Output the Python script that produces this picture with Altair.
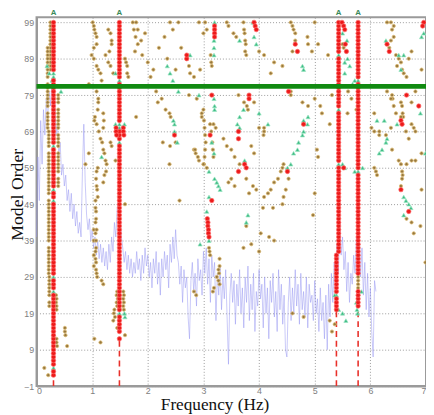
import altair as alt
import pandas as pd

# ---------------- data ----------------
FREQ_STEP = 0.025  # spectrum resolution (Hz)
psd_level = [
    40, 62, 50, 72, 60, 75, 68, 78, 72, 80,
    76, 82, 74, 79, 68, 72, 62, 66, 57, 60,
    54, 57, 50, 53, 47, 52, 45, 49, 43, 47,
    41, 44, 40, 58, 71, 55, 46, 42, 45, 39,
    42, 37, 40, 35, 39, 34, 38, 33, 37, 32,
    36, 31, 38, 33, 40, 36, 44, 40, 48, 50,
    46, 40, 37, 33, 36, 31, 35, 30, 34, 29,
    33, 30, 36, 31, 34, 28, 35, 30, 37, 32,
    35, 29, 33, 26, 34, 30, 36, 27, 33, 24,
    34, 29, 36, 31, 35, 26, 38, 33, 40, 34,
    42, 35, 33, 27, 32, 22, 31, 26, 29, 18,
    12, 28, 33, 25, 30, 21, 34, 28, 31, 24,
    36, 30, 37, 27, 34, 22, 35, 29, 33, 17,
    30, 24, 32, 20, 29, 23, 31, 18, 5, 24,
    30, 22, 28, 16, 27, 21, 31, 19, 26, 15,
    29, 22, 32, 17, 27, 20, 30, 14, 25, 21,
    31, 23, 27, 15, 29, 19, 26, 12, 28, 22,
    30, 18, 25, 14, 31, 20, 27, 16, 24, 9,
    7, 22, 29, 17, 26, 19, 31, 21, 27, 16,
    30, 20, 25, 18, 29, 15, 27, 22, 24, 17,
    28, 19, 23, 14, 26, 17, 22, 12, 24, 9,
    27, 18, 30, 22, 33, 26, 38, 30, 44, 35,
    40, 31, 36, 25, 33, 22, 30, 27, 35, 30,
    40, 33, 42, 29, 37, 24, 33, 20, 30, 18,
    26, 14, 7, 28, 25,
]

# columns of poles: (frequency, [(first order, last order, status)])
# status: R = stable, G = stable in frequency only, B = unstable
pole_columns = [
    (0.305, [(2, 3, 'R'), (4, 4, 'G'), (5, 24, 'R'), (25, 25, 'G'), (26, 28, 'R'), (29, 29, 'G'),
             (30, 49, 'R'), (50, 50, 'G'), (51, 52, 'R'), (53, 53, 'G'), (54, 64, 'R'), (65, 65, 'G'),
             (66, 83, 'R'), (84, 85, 'G'), (86, 99, 'R')]),
    (0.25, [(86, 99, 'B')]),
    (0.20, [(70, 74, 'B'), (76, 82, 'B'), (84, 92, 'B')]),
    (0.22, [(30, 37, 'B'), (39, 50, 'B'), (52, 63, 'B'), (65, 69, 'B')]),
    (0.23, [(21, 22, 'B'), (24, 29, 'B')]),
    (0.39, [(54, 56, 'B'), (58, 63, 'B'), (65, 68, 'B'), (70, 75, 'B'), (77, 79, 'B')]),
    (1.49, [(12, 12, 'R'), (14, 18, 'R'), (19, 19, 'G'), (20, 65, 'R'), (66, 66, 'G'), (67, 69, 'R'),
            (70, 71, 'G'), (72, 82, 'R'), (83, 83, 'G'), (84, 99, 'R')]),
    (5.39, [(20, 23, 'R'), (24, 24, 'G'), (25, 35, 'R')]),
    (5.43, [(36, 59, 'R'), (60, 60, 'G'), (61, 74, 'R'), (75, 75, 'G'), (76, 89, 'R'), (90, 90, 'G'),
            (91, 99, 'R')]),
    (5.78, [(21, 25, 'R'), (26, 29, 'B'), (30, 57, 'R'), (58, 58, 'G'), (59, 82, 'R'), (83, 83, 'G'),
            (84, 99, 'R')]),
]

unstable_pts = [
    (0.14, 4), (0.21, 2), (0.36, 12), (0.36, 11), (0.37, 10), (0.51, 15), (0.51, 14), (0.52, 13), (0.55, 10),
    (0.35, 24), (0.36, 23), (0.35, 22), (0.36, 21), (0.36, 20),
    (1.45, 25), (1.44, 24), (1.46, 23), (1.44, 22), (1.45, 21), (1.40, 20), (1.39, 19), (1.41, 18), (1.38, 17),
    (1.45, 15), (1.59, 13), (1.56, 25), (1.57, 24), (1.56, 23), (1.57, 22), (1.56, 21), (1.57, 20),
    (1.01, 99), (1.03, 98), (1.04, 97), (1.06, 96), (1.08, 95), (1.08, 93), (1.03, 92), (0.99, 90), (1.03, 89),
    (1.08, 87), (1.11, 86), (1.15, 85), (1.17, 83), (0.94, 82), (1.08, 80), (1.11, 78),
    (1.11, 77), (1.10, 75), (1.05, 73), (1.04, 72), (1.08, 71), (1.12, 69), (1.15, 67), (1.18, 66), (1.20, 64),
    (1.22, 63), (1.24, 61), (1.26, 60), (1.25, 58), (1.22, 57), (1.20, 55), (1.10, 59), (1.08, 58), (1.07, 56),
    (1.08, 54), (1.09, 53), (1.10, 51), (1.06, 50), (1.06, 48), (1.07, 47), (1.07, 45), (1.06, 44), (1.03, 42),
    (1.08, 42), (1.06, 41), (1.03, 39), (1.07, 39), (1.07, 37), (1.06, 36), (1.03, 35), (1.06, 34), (1.07, 33),
    (1.03, 32), (1.07, 31), (1.08, 30), (1.09, 29), (1.17, 28), (1.20, 27), (1.04, 12), (1.15, 11),
    (1.20, 74), (1.21, 72), (1.20, 70),
    (1.24, 90), (1.29, 88), (1.33, 87), (1.38, 85), (1.29, 97), (1.33, 96), (1.35, 94), (1.35, 93), (1.31, 91),
    (1.59, 89), (1.61, 88), (1.63, 87), (1.63, 85), (1.65, 84),
    (1.79, 99), (1.82, 97), (1.95, 96), (1.88, 94), (1.82, 93), (1.77, 91), (1.73, 99), (1.75, 97), (1.78, 95),
    (0.88, 60), (0.94, 63), (1.42, 61), (1.33, 66), (1.35, 65), (1.59, 49), (1.79, 73),
    (2.18, 77), (2.32, 75), (2.39, 74), (2.41, 73), (2.27, 66), (2.40, 65), (2.50, 66), (2.83, 64), (2.86, 63),
    (2.92, 61), (2.39, 60), (2.57, 50),
    (1.90, 90), (2.00, 88), (2.10, 86), (2.05, 84), (2.20, 92), (2.30, 95), (2.45, 97), (2.35, 89), (2.15, 80),
    (2.25, 78), (2.50, 86), (2.60, 92), (2.55, 99), (2.40, 99),
    (2.92, 99), (3.03, 99), (3.06, 97), (3.00, 96), (3.13, 90), (3.14, 88), (3.15, 87), (2.74, 87), (2.76, 85),
    (2.83, 84), (2.94, 86), (3.42, 99), (3.45, 98), (3.54, 96), (3.59, 95),
    (3.72, 99), (3.73, 97), (3.74, 96), (3.75, 94), (3.76, 93), (3.75, 91), (3.77, 90),
    (4.00, 91), (4.09, 90), (4.27, 88), (4.42, 87), (4.21, 85),
    (4.57, 99), (4.60, 98), (4.62, 97), (4.65, 96), (4.65, 94), (4.60, 91),
    (4.87, 95), (4.88, 93), (4.95, 91), (5.00, 99), (5.06, 93), (5.24, 90),
    (6.30, 99), (6.37, 99), (6.42, 98), (6.39, 97), (6.42, 95), (6.37, 94), (6.34, 92),
    (6.46, 90), (6.51, 89), (6.55, 88), (6.48, 87), (6.57, 86), (6.60, 85), (6.65, 84),
    (6.74, 91), (6.69, 89), (6.92, 86), (5.50, 93), (5.52, 92),
    (2.74, 79), (2.88, 78), (2.97, 74), (2.97, 73), (3.18, 71), (3.22, 70), (3.63, 79), (3.73, 77), (3.78, 76),
    (3.80, 75), (3.91, 77), (4.09, 70), (4.09, 69), (4.08, 68), (4.57, 80), (4.57, 79), (4.78, 77), (4.88, 76),
    (5.00, 78), (5.10, 76), (5.13, 74), (5.27, 71), (5.75, 75), (6.07, 74), (6.07, 69), (6.16, 68), (6.28, 68),
    (6.37, 70), (6.39, 79), (6.40, 78), (6.42, 76), (6.55, 77), (6.57, 76), (6.58, 74), (6.59, 73), (6.74, 71),
    (6.78, 70), (6.81, 69), (5.31, 79), (5.60, 80), (5.66, 78), (5.59, 74), (6.30, 80), (6.37, 78), (6.46, 74),
    (6.55, 73), (6.64, 69), (6.69, 67), (6.74, 77), (6.81, 80), (6.02, 70), (6.16, 69),
    (3.00, 75), (3.01, 72), (3.02, 70), (3.03, 68), (3.04, 66), (3.03, 64), (3.02, 62), (3.01, 60),
    (2.85, 64), (2.90, 62), (3.00, 60), (3.06, 59), (3.12, 71), (3.14, 69), (3.16, 66), (3.17, 64), (3.18, 62),
    (3.36, 67), (3.42, 65), (3.50, 64), (3.56, 62), (3.65, 60), (3.45, 55), (3.50, 56), (3.56, 54), (3.77, 56),
    (3.89, 54), (3.82, 52), (3.95, 53), (3.86, 65), (3.91, 63), (4.00, 70),
    (4.09, 51), (4.16, 52), (4.21, 53), (4.27, 55), (4.34, 56), (4.39, 58), (4.42, 59), (4.44, 60), (4.53, 56),
    (4.48, 53), (4.44, 51), (5.04, 64), (5.06, 62), (5.00, 52), (6.07, 59), (6.10, 58), (6.12, 57), (6.39, 64),
    (6.51, 61), (6.55, 60), (6.57, 58), (6.58, 57), (6.57, 56), (6.55, 54), (6.65, 60), (6.74, 61), (6.81, 61),
    (6.92, 63), (6.92, 53),
    (3.10, 37), (3.11, 36), (3.12, 35), (3.29, 34), (3.29, 32), (3.77, 43), (3.86, 38), (3.72, 37), (4.03, 41),
    (4.18, 40), (4.27, 39), (4.00, 36), (4.07, 48), (4.25, 48), (4.42, 49), (4.97, 46), (6.74, 44), (6.90, 43),
    (6.78, 41), (6.65, 45), (6.99, 33),
    (2.83, 25), (2.87, 24), (3.19, 26), (3.24, 29), (3.27, 28), (3.29, 27), (3.27, 31), (3.28, 30), (3.17, 25),
    (4.60, 19), (4.80, 18), (5.27, 17), (5.31, 14), (5.36, 16),
]

freq_stable_pts = [
    (0.19, 87), (0.23, 85), (0.28, 83), (0.44, 80),
    (1.42, 71), (1.58, 71), (1.42, 85), (1.59, 18), (1.58, 19), (1.17, 62),
    (2.46, 72), (2.48, 71), (2.48, 69), (2.53, 66), (2.35, 87), (2.40, 85), (2.45, 83), (2.55, 80),
    (2.92, 79), (3.19, 78), (3.20, 76), (3.20, 75), (3.65, 73), (3.72, 75), (3.61, 71), (3.65, 70), (4.00, 74),
    (4.16, 71), (4.88, 73), (4.80, 72), (6.25, 72), (6.90, 74),
    (3.15, 66), (3.19, 63), (3.20, 56), (3.24, 55), (3.27, 54), (3.30, 53), (3.10, 51), (3.10, 58), (3.74, 61),
    (4.51, 59), (4.57, 60), (4.62, 63), (4.69, 64), (4.71, 66), (4.78, 68), (4.80, 69), (4.87, 71),
    (5.50, 60), (5.54, 59), (5.72, 58), (5.86, 59),
    (6.16, 63), (6.21, 64), (6.28, 66), (6.30, 67),
    (6.60, 51), (6.64, 50), (6.69, 49), (6.73, 48), (6.60, 46), (6.99, 63),
    (3.06, 47), (2.94, 38), (3.10, 39), (3.80, 46), (3.77, 44),
    (3.20, 99), (3.19, 94), (3.19, 92), (3.19, 90), (2.76, 90), (3.65, 94), (3.89, 99), (3.91, 95), (3.95, 93),
    (4.78, 87), (4.80, 86), (5.50, 96), (5.58, 94), (5.59, 89), (5.63, 87), (5.54, 85), (5.72, 83), (5.54, 88),
    (5.68, 82), (6.28, 94), (6.51, 90), (6.60, 90), (6.55, 86), (6.92, 95), (6.12, 72), (6.48, 71), (6.96, 96),
    (5.36, 24), (5.43, 20), (5.50, 19), (5.56, 17), (5.75, 22), (5.76, 20), (5.77, 19), (5.84, 25),
]

stable_pts = [
    (1.43, 70), (1.43, 69), (1.56, 70), (1.56, 69), (1.57, 68), (1.44, 68),
    (2.48, 68), (3.15, 79), (3.20, 98), (3.20, 97), (3.20, 96), (3.20, 95), (2.70, 89), (2.70, 90),
    (3.91, 99), (3.93, 98), (3.95, 97), (4.65, 93), (4.69, 91), (5.49, 99), (5.52, 98), (5.54, 97), (5.55, 93),
    (5.57, 91), (6.30, 93), (6.34, 91), (6.96, 99), (6.94, 98),
    (4.53, 80), (3.82, 79), (3.82, 78), (4.80, 71), (6.65, 79), (6.55, 72), (6.87, 76), (6.57, 71),
    (3.12, 68), (3.63, 69), (3.63, 67), (3.74, 60), (3.77, 59), (3.63, 58), (3.15, 50), (4.51, 58), (5.52, 59),
    (6.55, 53), (6.69, 47),
    (3.07, 45), (3.08, 44), (3.08, 43), (3.09, 42), (3.09, 41), (3.10, 40),
]

mode_freqs = [0.305, 1.49, 5.39, 5.78]
mode_dash_top = [2, 12, 20, 21]
mode_label_freqs = [0.305, 1.49, 5.43, 5.78]
chosen_order = 81.4

x_ticks = [0, 1, 2, 3, 4, 5, 6, 7]
y_ticks = [-1, 9, 19, 29, 39, 49, 59, 69, 79, 89, 99]

# ---------------- tables ----------------
df_psd = pd.DataFrame({"f": [i * FREQ_STEP for i in range(len(psd_level))], "o": psd_level})

rows = {"R": [], "G": [], "B": []}
for freq, runs in pole_columns:
    for a, b, s in runs:
        for order in range(a, b + 1):
            rows[s].append((freq, order))
rows["B"] += unstable_pts
rows["G"] += freq_stable_pts
rows["R"] += stable_pts
df_B = pd.DataFrame(rows["B"], columns=["f", "o"])
df_G = pd.DataFrame(rows["G"], columns=["f", "o"])
df_R = pd.DataFrame(rows["R"], columns=["f", "o"])

df_dash = pd.DataFrame({"f": mode_freqs, "o": [-1] * len(mode_freqs), "o2": mode_dash_top})
df_lab = pd.DataFrame({"f": mode_label_freqs, "o": [101.6] * len(mode_label_freqs), "t": ["A"] * len(mode_label_freqs)})
df_h = pd.DataFrame({"o": [chosen_order]})

# ---------------- encodings ----------------
xs = alt.Scale(domain=[0, 7], nice=False, zero=False)
ys = alt.Scale(domain=[-1, 100.4], nice=False, zero=False)
lab_font = "Liberation Sans"
xaxis = alt.Axis(values=x_ticks, title="Frequency (Hz)", grid=True, gridDash=[1, 2], gridColor="#9a9a9a",
                 ticks=False, tickSize=0, labelPadding=1, labelFontSize=9, labelColor="#808080",
                 labelFont=lab_font, domainColor="#9a9a9a", domainWidth=2,
                 titleFont="Liberation Serif", titleFontSize=17.5, titleFontWeight="normal", titleColor="#111",
                 titleX=181, titleY=24, titleBaseline="alphabetic", titleAlign="center")
yaxis = alt.Axis(values=y_ticks, title="Model Order", grid=True, gridDash=[1, 2], gridColor="#9a9a9a",
                 ticks=False, tickSize=0, labelPadding=3, labelFontSize=9, labelColor="#808080",
                 labelFont=lab_font, domainColor="#9a9a9a", domainWidth=2,
                 titleFont="Liberation Serif", titleFontSize=18, titleFontWeight="normal", titleColor="#111",
                 titleAngle=270, titleX=-19, titleY=180, titleBaseline="middle", titleAlign="center")
X = alt.X("f:Q", scale=xs, axis=xaxis)
Y = alt.Y("o:Q", scale=ys, axis=yaxis)

psd = alt.Chart(df_psd).mark_line(color="#9898f2", strokeWidth=0.7, opacity=0.75).encode(x=X, y=Y)
dash = alt.Chart(df_dash).mark_rule(color="#e8302a", strokeWidth=1.6, strokeDash=[6, 4]).encode(
    x=X, y=Y, y2="o2:Q")
brown = alt.Chart(df_B).mark_point(shape="circle", filled=False, fill="#97783f", fillOpacity=1,
                                   stroke="#dcbc74", strokeWidth=0.8, size=11, opacity=1).encode(x=X, y=Y)
green = alt.Chart(df_G).mark_point(shape="triangle-up", fill="#3dba84", fillOpacity=1,
                                   stroke="#9be6c2", strokeWidth=0.7, size=18, opacity=1).encode(x=X, y=Y)
red = alt.Chart(df_R).mark_point(shape="circle", fill="#ec1a1a", fillOpacity=1,
                                 stroke="#ff6a6a", strokeWidth=0.7, size=20, opacity=1).encode(x=X, y=Y)
hline = alt.Chart(df_h).mark_rule(color="#118a11", strokeWidth=5).encode(y=Y)
labels = alt.Chart(df_lab).mark_text(color="#3a8a5a", fontSize=8, fontWeight="bold", baseline="middle",
                                     font=lab_font).encode(x=X, y=Y, text="t:N")

chart = alt.layer(psd, dash, brown, green, red, hline, labels).properties(
    width=396, height=375,
    autosize=alt.AutoSizeParams(type="none"),
    padding={"left": 29, "top": 6, "right": 0, "bottom": 26},
    background="white",
).configure_view(stroke="#9a9a9a", strokeWidth=2)

chart.save("out.html", embed_options={"renderer": "svg", "actions": False})
